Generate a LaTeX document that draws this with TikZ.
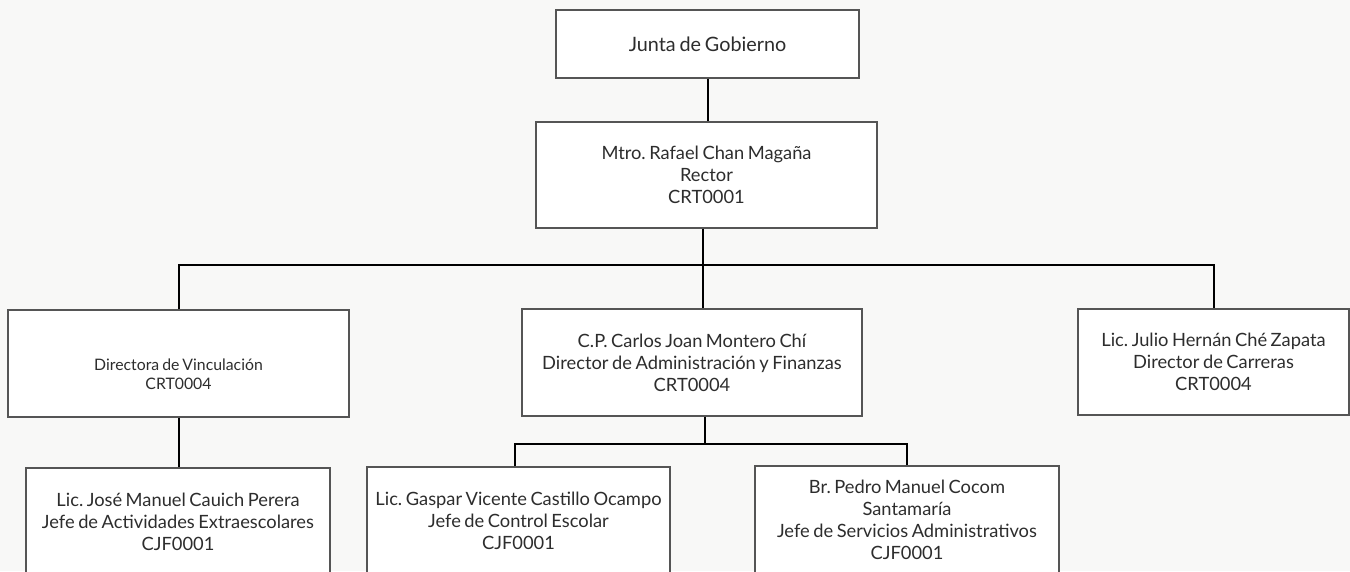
\documentclass[tikz,border=0pt]{standalone}
\usepackage{fontspec}
\setmainfont{Lato}[WordSpace=0.75]
\frenchspacing
\definecolor{bg}{RGB}{248,248,247}
\definecolor{boxline}{RGB}{85,85,85}
\definecolor{txt}{RGB}{45,45,45}
\tikzset{
  orgbox/.style={draw=boxline, line width=1.3pt, fill=white, rectangle, align=center, text=txt, inner sep=0pt,
    font=\fontsize{18.3}{22}\selectfont},
  conn/.style={draw=black, line width=2pt}
}
\begin{document}
\begin{tikzpicture}[x=1pt,y=-1pt]
\useasboundingbox (0,0) rectangle (1350,571);
\clip (0,0) rectangle (1350,571);
\fill[bg] (0,0) rectangle (1350,571);
\node[orgbox, minimum width=303pt, minimum height=68pt, font=\fontsize{19.8}{22}\selectfont] (junta) at (707.5,44) {\raisebox{-4pt}{Junta de Gobierno}};
\node[orgbox, minimum width=341pt, minimum height=106pt] (rector) at (706.5,175) {Mtro. Rafael Chan Magaña\\Rector\\CRT0001};
\node[orgbox, minimum width=341pt, minimum height=107pt, font=\fontsize{15.8}{19}\selectfont] (dv) at (178.5,363.5) {\strut\\Directora de Vinculación\\CRT0004};
\node[orgbox, minimum width=340pt, minimum height=107pt] (cp) at (692,362.5) {C.P. Carlos Joan Montero Chí\\Director de Administración y Finanzas\\CRT0004};
\node[orgbox, minimum width=271pt, minimum height=106pt] (julio) at (1213.5,362) {Lic. Julio Hernán Ché Zapata\\Director de Carreras\\CRT0004};
\node[orgbox, minimum width=304pt, minimum height=107pt] (jmc) at (178,521.5) {Lic. José Manuel Cauich Perera\\Jefe de Actividades Extraescolares\\CJF0001};
\node[orgbox, minimum width=303pt, minimum height=107pt] (gaspar) at (518.5,520.5) {Lic. Gaspar Vicente Castillo Ocampo\\Jefe de Control Escolar\\CJF0001};
\node[orgbox, minimum width=304pt, minimum height=107pt] (pedro) at (907,519.5) {Br. Pedro Manuel Cocom\\Santamaría\\Jefe de Servicios Administrativos\\CJF0001};
\coordinate (bus1) at (703,265);
\coordinate (bus2) at (705,444);
\draw[conn] (junta.south) -- (junta.south |- rector.north);
\draw[conn] (rector.south -| bus1) -- (bus1 |- cp.north);
\draw[conn] (dv.north) |- (bus1) -| (julio.north);
\draw[conn] (cp.south -| bus2) -- (bus2);
\draw[conn] ([xshift=-3.5pt]gaspar.north) |- (bus2) -| (pedro.north);
\draw[conn] (dv.south) -- (dv.south |- jmc.north);
\end{tikzpicture}
\end{document}
